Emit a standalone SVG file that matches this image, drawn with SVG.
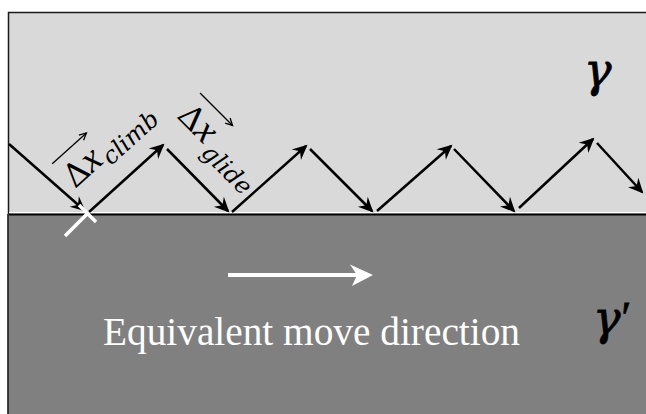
<svg xmlns="http://www.w3.org/2000/svg" width="646" height="414" viewBox="0 0 646 414">
<style>
.zz{stroke:#000;stroke-width:2.5;fill:none;marker-end:url(#ah)}
.sym{font-family:"DejaVu Serif","Liberation Serif",serif;font-size:32px;fill:#000}
.xi{font-family:"Liberation Serif",serif;font-style:italic;font-size:38px}
.sub{font-family:"DejaVu Serif","Liberation Serif",serif;font-style:italic;font-size:24px;fill:#000}
.vec{stroke:#000;stroke-width:1.3;fill:none;marker-end:url(#vh)}
.greek{font-family:"DejaVu Serif","Liberation Serif",serif;font-style:italic;font-size:46px;fill:#000;stroke:#000;stroke-width:0.8}
</style>
<defs>
<marker id="ah" viewBox="-15 -8 18 16" refX="0" refY="0" markerWidth="18" markerHeight="16" markerUnits="userSpaceOnUse" orient="auto">
<path d="M2,0 L-13,-7 L-8,0 L-13,7 Z" fill="#000"/>
</marker>
<marker id="vh" viewBox="-8 -5 10 10" refX="0" refY="0" markerWidth="10" markerHeight="10" markerUnits="userSpaceOnUse" orient="auto">
<path d="M-7,-3.5 L0,0 L-7,3.5" fill="none" stroke="#000" stroke-width="1.3"/>
</marker>
</defs>
<rect width="646" height="414" fill="#fff"/>
<g id="gamma-phase">
<rect x="8" y="12" width="638" height="202" fill="#d9d9d9"/>
<path d="M8.5,414 V12.5 H646" fill="none" stroke="#1a1a1a" stroke-width="1.5"/>
</g>
<g id="gamma-prime-phase">
<rect x="8" y="214" width="638" height="200" fill="#808080"/>
<line x1="8" y1="214" x2="8" y2="414" stroke="#1a1a1a" stroke-width="1.5"/>
</g>
<g id="interface">
<line x1="9" y1="212.5" x2="646" y2="212.5" stroke="#fff" stroke-width="1"/>
<line x1="9" y1="214.5" x2="646" y2="214.5" stroke="#000" stroke-width="2"/>
</g>
<g id="connectors">
<line class="zz" x1="9" y1="144" x2="84" y2="210"/>
<line class="zz" x1="89" y1="212" x2="163" y2="145"/>
<line class="zz" x1="167" y1="149" x2="228" y2="211"/>
<line class="zz" x1="232" y1="212" x2="306" y2="146"/>
<line class="zz" x1="310" y1="149" x2="372" y2="211"/>
<line class="zz" x1="377" y1="211" x2="451" y2="146"/>
<line class="zz" x1="454" y1="149" x2="514" y2="211"/>
<line class="zz" x1="519" y1="208" x2="593" y2="139"/>
<line class="zz" x1="597" y1="143" x2="642" y2="192"/>
</g>
<g id="dislocation">
<line x1="79" y1="205" x2="96" y2="222" stroke="#fff" stroke-width="3.5"/>
<line x1="87.5" y1="213.5" x2="65" y2="236" stroke="#fff" stroke-width="3.5"/>
</g>
<g id="label-climb" transform="translate(75,189) rotate(-42)">
<text class="sym" x="0" y="0">Δ<tspan class="xi">x</tspan></text>
<text class="sub" x="42" y="7">climb</text>
<line class="vec" x1="0" y1="-34" x2="46" y2="-34"/>
</g>
<g id="label-glide" transform="translate(176,117) rotate(45)">
<text class="sym" x="0" y="0">Δ<tspan class="xi">x</tspan></text>
<text class="sub" x="43" y="9">glide</text>
<line class="vec" x1="0" y1="-34" x2="46" y2="-34"/>
</g>
<g id="move-direction">
<line x1="228" y1="275" x2="358" y2="275" stroke="#fff" stroke-width="4"/>
<path d="M373,275 L350,264.5 L357,275 L352,286 Z" fill="#fff"/>
<text x="103" y="345" font-family="Liberation Serif, serif" font-size="39" fill="#fff" textLength="417" lengthAdjust="spacingAndGlyphs">Equivalent move direction</text>
</g>
<g id="label-gamma">
<text class="greek" x="584" y="86">γ</text>
</g>
<g id="label-gamma-prime">
<text class="greek" x="593" y="334">γ<tspan font-style="normal" font-family="Liberation Serif, serif" font-size="44" dx="1" dy="-2">′</tspan></text>
</g>
</svg>
